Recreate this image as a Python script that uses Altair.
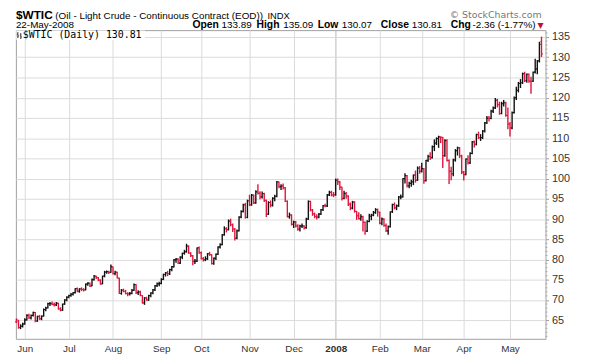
import altair as alt
import pandas as pd

# ---------------- data ----------------
holidays = ["2007-05-28", "2007-07-04", "2007-09-03", "2007-11-22", "2007-12-25",
            "2008-01-01", "2008-01-21", "2008-02-18", "2008-03-21"]
prior_close = 65.60

opens = [
    64.60, 64.80, 63.20, 63.60,
    64.10, 65.10, 66.20, 65.60, 66.20, 66.90, 64.80, 65.90, 65.40, 66.00, 67.60, 68.10, 69.10, 69.10, 68.90, 68.80, 69.20, 67.80, 67.50, 69.00, 70.00,
    70.70, 71.10, 71.40, 71.80, 72.80, 72.20, 72.70, 72.60, 72.50, 73.90, 74.10, 73.50, 75.00, 75.90, 75.50, 74.90, 74.00, 75.90, 76.90, 77.00, 76.80,
    78.20, 76.50, 76.90, 75.40, 71.60, 72.40, 72.10, 71.60, 71.50, 71.60, 72.40, 73.80, 71.80, 72.00, 71.10, 69.30, 70.50, 70.00, 71.10, 71.70, 72.50, 73.50, 74.00,
    74.10, 75.10, 76.30, 76.70, 76.50, 77.50, 78.20, 79.90, 80.10, 79.10, 80.60, 81.50, 81.90, 83.30, 81.60, 80.90, 79.50, 79.60, 82.90,
    81.70, 80.20, 79.90, 80.20, 81.40, 81.20, 79.00, 80.30, 81.30, 83.10, 83.70, 86.10, 87.60, 87.40, 89.50, 88.60, 87.50, 85.30, 87.10, 90.50, 91.90, 93.50, 90.40,
    94.50, 93.50, 95.90, 94.00, 96.70, 96.40, 95.50, 96.30, 94.60, 91.20, 94.10, 93.40, 95.10, 95.60, 99.20, 98.00, 98.20, 97.70, 94.40, 90.60, 91.00,
    88.70, 89.30, 88.30, 87.50, 88.30, 88.30, 87.90, 90.00, 94.40, 92.20, 91.30, 90.60, 90.50, 91.20, 92.30, 93.30, 93.20, 96.00, 96.60, 96.00,
    96.00, 99.60, 99.20, 97.90, 95.10, 96.30, 95.70, 93.70, 92.70, 94.20, 91.90, 90.80, 90.10, 90.60, 89.20, 87.00, 89.40, 90.70, 91.00, 91.60, 92.30,
    91.70, 89.00, 90.00, 88.40, 87.10, 88.10, 91.80, 93.60, 92.80, 93.30, 95.50, 95.50, 100.00, 100.70, 98.20, 98.80, 99.20, 100.90, 99.60, 102.60,
    101.80, 102.40, 99.50, 104.50, 105.50, 105.20, 107.90, 108.80, 109.90, 110.30, 110.20, 105.70, 109.40, 104.50, 101.80, 101.20, 104.60, 106.90, 107.60, 105.60,
    101.60, 101.00, 104.80, 103.90, 106.20, 109.10, 108.50, 110.90, 110.10, 110.10, 111.80, 113.80, 114.90, 114.90, 116.70, 117.50, 119.40, 118.30, 116.10, 118.50, 118.80, 115.60,
    113.50, 112.50, 116.30, 120.00, 121.80, 123.50, 123.70, 125.90, 124.20, 125.80, 124.10, 124.10, 126.30, 127.10, 129.10, 133.89,
]
highs = [
    65.40, 65.10, 64.00, 64.40,
    65.50, 66.50, 66.60, 66.40, 67.10, 67.00, 66.10, 66.30, 66.20, 67.90, 68.30, 69.30, 69.50, 69.60, 69.40, 69.50, 69.30, 68.20, 69.10, 70.20, 70.90,
    71.30, 71.70, 72.00, 72.90, 73.10, 72.90, 73.10, 72.90, 74.10, 74.40, 74.30, 75.30, 76.20, 76.00, 75.70, 75.10, 76.00, 77.20, 77.30, 77.20, 78.77,
    78.30, 77.20, 77.00, 75.50, 72.70, 72.80, 72.50, 71.90, 72.00, 72.70, 74.10, 73.90, 72.40, 72.30, 71.20, 70.70, 70.80, 71.30, 71.90, 72.70, 73.70, 74.30, 74.50,
    75.40, 76.50, 76.90, 77.20, 77.70, 78.40, 80.10, 80.40, 80.30, 80.80, 81.70, 82.40, 83.90, 83.50, 81.80, 81.10, 80.10, 83.00, 83.20,
    82.00, 80.60, 80.80, 81.60, 81.90, 81.30, 80.50, 81.50, 83.30, 84.00, 86.30, 88.20, 88.00, 89.90, 90.10, 88.90, 87.80, 87.40, 90.70, 92.20, 93.80, 94.00, 94.80,
    96.00, 96.20, 96.10, 97.10, 98.62, 96.90, 96.80, 96.50, 94.80, 94.40, 94.60, 95.40, 96.00, 99.40, 99.29, 98.60, 98.80, 97.90, 94.60, 91.60, 91.20,
    89.60, 89.50, 88.70, 88.60, 88.90, 88.50, 90.30, 94.60, 94.50, 92.50, 91.60, 91.20, 91.50, 92.50, 93.50, 93.80, 96.20, 97.00, 97.00, 96.70,
    100.00, 100.00, 99.40, 98.00, 97.00, 96.70, 95.90, 94.10, 94.50, 94.40, 92.00, 91.70, 91.20, 90.80, 89.40, 89.70, 91.30, 91.30, 92.00, 92.70, 92.60,
    91.80, 90.40, 90.20, 88.90, 88.40, 91.90, 93.80, 94.10, 93.60, 95.70, 96.10, 100.10, 101.30, 100.90, 99.20, 99.70, 101.00, 102.00, 103.00, 103.10,
    103.90, 102.60, 104.60, 105.90, 106.50, 108.20, 109.70, 110.20, 110.60, 110.40, 110.30, 109.70, 109.70, 104.70, 102.90, 104.90, 107.30, 107.90, 107.80, 105.90,
    101.90, 105.00, 105.80, 106.50, 109.30, 109.40, 111.10, 111.60, 111.00, 112.00, 114.00, 115.50, 115.50, 117.00, 117.80, 119.90, 119.70, 119.00, 119.00, 119.40, 119.00, 117.60,
    114.00, 116.60, 120.30, 122.70, 123.90, 124.60, 126.20, 126.40, 126.00, 126.00, 125.20, 126.50, 129.60, 129.30, 133.82, 135.09,
]
lows = [
    64.30, 62.90, 62.80, 63.20,
    63.90, 64.90, 65.30, 65.20, 65.90, 64.50, 64.60, 65.10, 65.00, 65.90, 67.20, 67.90, 68.50, 68.70, 68.40, 68.50, 67.60, 67.20, 67.30, 68.80, 69.70,
    70.40, 70.80, 71.10, 71.60, 71.90, 71.80, 72.20, 72.10, 72.40, 73.50, 73.20, 73.40, 74.80, 75.20, 74.60, 73.80, 73.90, 75.60, 76.50, 76.40, 76.70,
    76.30, 76.10, 75.30, 71.50, 71.30, 71.90, 71.40, 70.90, 71.10, 71.40, 72.20, 71.50, 71.20, 70.90, 69.10, 68.80, 69.80, 69.80, 70.70, 71.40, 72.20, 73.20, 73.40,
    73.90, 74.90, 75.80, 75.90, 76.20, 77.10, 78.00, 79.20, 78.90, 78.90, 80.10, 81.20, 81.70, 81.40, 80.60, 78.60, 78.90, 79.40, 81.40,
    80.00, 79.50, 79.60, 79.90, 80.90, 78.80, 78.70, 79.90, 81.10, 82.70, 83.50, 85.90, 86.70, 87.20, 88.20, 86.80, 84.70, 85.00, 86.90, 90.20, 91.60, 90.10, 90.20,
    93.20, 93.30, 93.70, 93.80, 96.10, 94.90, 95.10, 94.20, 90.50, 91.00, 92.90, 93.10, 94.40, 95.40, 97.60, 97.20, 97.30, 94.20, 90.40, 90.10, 88.40,
    87.80, 87.90, 87.10, 86.90, 87.80, 87.40, 87.60, 89.80, 91.90, 90.80, 90.20, 89.90, 90.20, 91.00, 92.00, 92.90, 93.00, 95.70, 95.60, 95.40,
    95.80, 98.40, 97.20, 94.60, 94.90, 95.00, 93.20, 92.20, 92.40, 91.60, 89.80, 89.90, 89.60, 86.90, 86.11, 86.80, 89.20, 89.70, 90.70, 91.30, 90.60,
    88.70, 88.50, 88.10, 86.80, 86.11, 87.90, 91.50, 92.40, 92.20, 93.00, 94.90, 95.30, 98.80, 97.80, 97.60, 98.00, 98.40, 99.00, 99.40, 101.20,
    101.50, 98.70, 99.30, 104.10, 104.60, 105.00, 106.80, 108.30, 107.60, 108.80, 102.60, 105.40, 104.20, 98.65, 99.60, 100.60, 104.20, 105.70, 105.10, 101.10,
    99.55, 100.80, 103.50, 103.60, 106.00, 107.70, 108.20, 109.80, 109.30, 109.80, 111.40, 113.50, 114.10, 114.70, 116.20, 117.20, 117.60, 115.80, 115.90, 117.80, 115.30, 112.20,
    110.40, 112.20, 116.10, 119.40, 121.30, 122.40, 123.40, 123.90, 123.70, 123.70, 121.00, 123.90, 126.00, 125.80, 128.70, 130.07,
]
closes = [
    65.20, 63.15, 63.49, 64.01,
    65.08, 66.21, 65.61, 66.17, 66.93, 64.76, 65.97, 65.35, 65.97, 67.65, 68.00, 69.09, 69.10, 68.93, 68.81, 69.18, 67.77, 67.46, 68.97, 70.00, 70.68,
    71.09, 71.41, 71.81, 72.81, 72.19, 72.77, 72.59, 72.50, 73.93, 74.15, 73.47, 75.05, 75.92, 75.57, 74.89, 74.00, 75.88, 76.92, 77.02, 76.83, 78.21,
    76.53, 76.86, 75.48, 71.62, 72.42, 72.15, 71.59, 71.47, 71.62, 72.40, 73.80, 71.80, 71.98, 71.12, 69.27, 70.49, 70.04, 71.09, 71.73, 72.49, 73.51, 74.02, 74.04,
    75.08, 76.30, 76.70, 76.49, 77.49, 78.23, 79.91, 80.09, 79.10, 80.57, 81.51, 81.93, 83.32, 81.62, 80.95, 79.53, 79.60, 82.88, 81.66,
    80.24, 79.94, 80.18, 81.44, 81.22, 79.02, 80.34, 81.32, 83.08, 83.69, 86.13, 87.61, 87.40, 89.47, 88.60, 87.55, 85.27, 87.10, 90.46, 91.86, 93.53, 90.38, 94.53,
    93.49, 95.93, 93.98, 96.70, 96.37, 95.46, 96.32, 94.62, 91.17, 94.09, 93.43, 95.10, 95.64, 99.16, 98.03, 98.18, 97.70, 94.42, 90.62, 91.01, 88.71,
    89.31, 88.32, 87.49, 88.28, 88.30, 87.86, 90.02, 94.39, 92.25, 91.27, 90.63, 90.49, 91.24, 92.29, 93.31, 93.25, 95.97, 96.62, 96.00, 95.98,
    99.62, 99.18, 97.91, 95.09, 96.33, 95.67, 93.67, 92.69, 94.20, 91.90, 90.84, 90.13, 90.57, 89.21, 86.99, 89.41, 90.71, 90.99, 91.64, 92.33, 91.75,
    88.96, 90.02, 88.41, 87.14, 88.11, 91.77, 93.59, 92.78, 93.27, 95.46, 95.50, 100.01, 100.74, 98.23, 98.81, 99.23, 100.88, 99.64, 102.59, 101.84,
    102.45, 99.52, 104.52, 105.47, 105.15, 107.90, 108.75, 109.92, 110.33, 110.21, 105.68, 109.42, 104.48, 101.84, 101.22, 104.63, 106.90, 107.58, 105.62, 101.58,
    100.98, 104.83, 103.92, 106.23, 109.09, 108.50, 110.87, 110.11, 110.14, 111.76, 113.79, 114.93, 114.86, 116.69, 117.48, 119.37, 118.30, 116.06, 118.52, 118.75, 115.63, 113.46,
    112.52, 116.32, 119.97, 121.84, 123.53, 123.69, 125.96, 124.23, 125.80, 124.12, 124.00, 126.29, 127.05, 129.07, 133.17, 130.81,
]
y_ticks = [65, 70, 75, 80, 85, 90, 95, 100, 105, 110, 115, 120, 125, 130, 135]

# ---------------- table ----------------
dates = pd.bdate_range("2007-05-25", "2008-05-22", freq="C", holidays=holidays)
n = len(dates)
assert all(len(a) == n for a in (opens, highs, lows, closes)), [len(a) for a in (opens, highs, lows, closes)]
prev = [prior_close] + closes[:-1]
df = pd.DataFrame({
    "i": list(range(n)),
    "date": dates.strftime("%Y-%m-%d"),
    "open": opens, "high": highs, "low": lows, "close": closes,
    "dir": ["up" if c >= p else "down" for c, p in zip(closes, prev)],
})

month_idx, month_lab = [], []
for k in range(1, n):
    if dates[k].month != dates[k - 1].month:
        month_idx.append(k)
        month_lab.append("2008" if dates[k].month == 1 else dates[k].strftime("%b"))
label_expr = " : ".join(f"datum.value == {k} ? '{l}'" for k, l in zip(month_idx, month_lab)) + " : ''"
year_idx = month_idx[month_lab.index("2008")]

W, H = 537, 313
x_scale = alt.Scale(domain=[-0.23, 251.9], nice=False, zero=False)
y_scale = alt.Scale(domain=[60.4, 136.7], nice=False, zero=False)
color = alt.Color("dir:N", scale=alt.Scale(domain=["up", "down"], range=["#111111", "#e0143c"]), legend=None)

x_axis = alt.Axis(values=month_idx, labelExpr=label_expr, grid=True, ticks=False,
                  domain=False, labelPadding=5, labelFontSize=10, title=None,
                  labelFontWeight={"condition": {"test": f"datum.value == {year_idx}", "value": "bold"}, "value": "normal"},
                  gridColor={"condition": {"test": f"datum.value == {year_idx}", "value": "#b8b8b8"}, "value": "#dadada"})
y_axis = alt.Axis(orient="right", values=y_ticks, grid=True, domain=False, tickSize=3, title=None,
                  labelPadding=3, labelFontSize=11, labelOverlap=False, labelSeparation=0,
                  labelBound=False, gridColor="#dadada")

base = alt.Chart(df)
hl = base.mark_rule(strokeWidth=1.4).encode(
    x=alt.X("i:Q", scale=x_scale, axis=x_axis),
    y=alt.Y("low:Q", scale=y_scale, axis=y_axis),
    y2="high:Q",
    color=color,
)
op = base.transform_calculate(xl="datum.i - 0.55").mark_rule(strokeWidth=1.2).encode(
    x=alt.X("xl:Q", scale=x_scale, axis=x_axis), x2="i:Q",
    y=alt.Y("open:Q", scale=y_scale, axis=y_axis), color=color)
cl = base.transform_calculate(xr="datum.i + 0.55").mark_rule(strokeWidth=1.2).encode(
    x=alt.X("i:Q", scale=x_scale, axis=x_axis), x2="xr:Q",
    y=alt.Y("close:Q", scale=y_scale, axis=y_axis), color=color)

minor_df = pd.DataFrame({"v": [v for v in range(61, 137) if v % 5 != 0]})
minor = alt.Chart(minor_df).mark_rule(color="#aaaaaa", strokeWidth=1).encode(
    y=alt.Y("v:Q", scale=y_scale, axis=y_axis), x=alt.value(W), x2=alt.value(W + 2))

one = pd.DataFrame({"k": [0]})


def txt(s, sx, sy, size=10, weight="normal", font="Liberation Sans", col="#000000", align="left"):
    return alt.Chart(one).mark_text(text=s, fontSize=size, fontWeight=weight, font=font, color=col,
                                    align=align, baseline="alphabetic").encode(
        x=alt.value(sx - 16), y=alt.value(sy - 28))


def tiny_rule(x1, y1, x2, y2, col="#333333"):
    return alt.Chart(one).mark_rule(color=col, strokeWidth=1).encode(
        x=alt.value(x1), y=alt.value(y1), x2=alt.value(x2), y2=alt.value(y2))


legend_bg = alt.Chart(one).mark_rect(color="white").encode(
    x=alt.value(0.5), x2=alt.value(131), y=alt.value(0.5), y2=alt.value(10))
icon = [tiny_rule(2, 2, 2, 8), tiny_rule(1, 4, 2, 4), tiny_rule(2, 6, 3, 6),
        tiny_rule(5, 3, 5, 9), tiny_rule(4, 5, 5, 5), tiny_rule(5, 7, 6, 7)]

L1, L2 = 16.5, 26
texts = [
    txt("$WTIC", 16, L1, size=12, weight="bold"),
    txt("(Oil - Light Crude - Continuous Contract (EOD))", 56, L1, size=10),
    txt("INDX", 271, L1, size=9.5),
    txt("22-May-2008", 16, L2, size=10),
    txt("Open", 195, L2, size=10.5, weight="bold"),
    txt("133.89", 224.5, L2, size=10),
    txt("High", 260, L2, size=10.5, weight="bold"),
    txt("135.09", 287, L2, size=10),
    txt("Low", 322, L2, size=10.5, weight="bold"),
    txt("130.07", 346.5, L2, size=10),
    txt("Close", 386, L2, size=10.5, weight="bold"),
    txt("130.81", 417.5, L2, size=10),
    txt("Chg", 457, L2, size=10.5, weight="bold"),
    txt("-2.36 (-1.77%)", 479, L2, size=10),
    txt("\u25bc", 545, L2, size=8, col="#c8102e", font="DejaVu Sans"),
    txt("\u00a9 StockCharts.com", 549, 16, size=9.5, col="#777777", font="DejaVu Sans", align="right"),
    txt("$WTIC (Daily) 130.81", 23, 36, size=10, font="DejaVu Sans Mono"),
]

chart = alt.layer(hl, op, cl, minor, legend_bg, *icon, *texts).properties(
    width=W, height=H,
    padding={"left": 8, "top": 20, "right": 36, "bottom": 16},
    autosize=alt.AutoSizeParams(type="none"),
).configure_view(stroke="#a0a0a0", strokeWidth=1).configure_axis(
    labelFont="Liberation Sans", labelColor="#333333", tickColor="#999999",
)

chart.save("out.html", embed_options={"renderer": "svg", "actions": False})
